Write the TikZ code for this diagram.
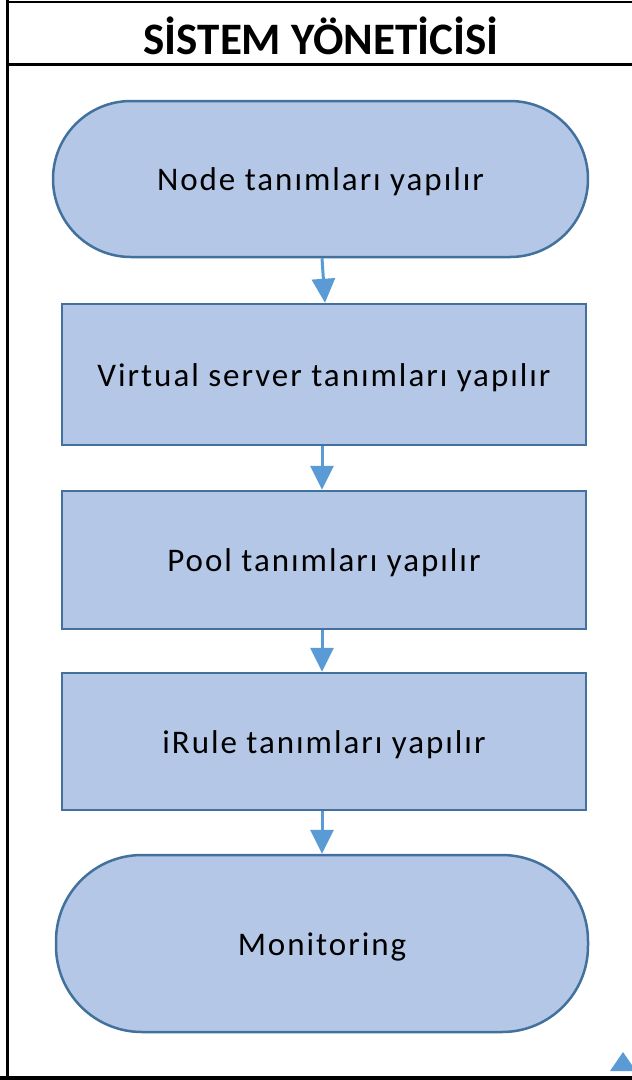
\documentclass[tikz,border=0pt]{standalone}
\usepackage{fontspec}
\setmainfont{Carlito}
\newfontfamily\spacedfont[LetterSpace=6]{Carlito}
\usetikzlibrary{arrows.meta}
\definecolor{boxfill}{HTML}{B4C7E7}
\definecolor{boxline}{HTML}{41719C}
\definecolor{arrowblue}{HTML}{5B9BD5}
\begin{document}
\begin{tikzpicture}[x=1pt,y=-1pt,
  stepbox/.style={draw=boxline,fill=boxfill,line width=2.5pt,rectangle,inner sep=0pt,
    text height=28pt,text depth=5pt,
    font=\spacedfont\fontsize{33}{38}\selectfont},
  termbox/.style={stepbox},
  arr/.style={draw=arrowblue,line width=3pt,-{Triangle[width=23pt,length=24pt]}},
  frameline/.style={draw=black,line width=3pt}]
\useasboundingbox (0,0) rectangle (632,1080);
\fill[white] (0,0) rectangle (632,1080);
% frame
\draw[black,line width=2pt] (7,2) -- (640,2);
\draw[frameline] (7,0) -- (7,1080);
\draw[frameline] (7,64) -- (640,64);
\draw[black,line width=5pt] (0,1078) -- (640,1078);
\node[font=\fontsize{45}{50}\selectfont\bfseries] (title) at (321,36) {SİSTEM YÖNETİCİSİ};
% nodes
\node[termbox,minimum width=535pt,minimum height=156pt,rounded corners=78pt] (n1) at (320.5,179) {Node tanımları yapılır};
\node[stepbox,minimum width=524pt,minimum height=141pt] (n2) at (324,374.5) {Virtual server tanımları yapılır};
\node[stepbox,minimum width=524pt,minimum height=138pt] (n3) at (324,560) {Pool tanımları yapılır};
\node[stepbox,minimum width=524pt,minimum height=137pt] (n4) at (324,741.5) {iRule tanımları yapılır};
\node[termbox,minimum width=532pt,minimum height=177pt,rounded corners=86pt] (n5) at (322,943.5) {Monitoring};
% connectors
\draw[arr] ([xshift=1.5pt]n1.south) -- ([xshift=1pt]n2.north);
\draw[arr] ([xshift=-2pt]n2.south) -- ([xshift=-2pt]n3.north);
\draw[arr] ([xshift=-2pt]n3.south) -- ([xshift=-2pt]n4.north);
\draw[arr] ([xshift=-2pt]n4.south) -- (n5.north);
% partial arrowhead at bottom right
\fill[arrowblue] (610,1071) -- (623,1052) -- (636,1071) -- cycle;
\end{tikzpicture}
\end{document}
